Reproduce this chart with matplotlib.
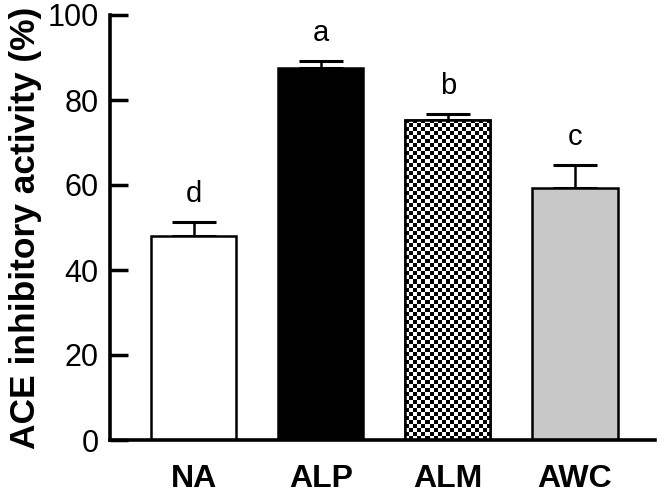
import numpy as np
import matplotlib
matplotlib.use("Agg")
import matplotlib.pyplot as plt

plt.rcParams['font.family'] = ['Liberation Sans', 'DejaVu Sans']

groups = ['NA', 'ALP', 'ALM', 'AWC']
means = [48.0, 87.5, 75.4, 59.4]
errs = [3.2, 1.7, 1.3, 5.4]
letters = ['d', 'a', 'b', 'c']

fig = plt.figure(figsize=(6.61, 5.0), dpi=100)
ax = fig.add_axes([0.166, 0.12, 0.825, 0.85])

x = np.arange(len(groups))
w = 0.67
colors = ['white', 'black', 'white', '#c8c8c8']
bars = ax.bar(x, means, width=w, color=colors, edgecolor='black',
              linewidth=1.8, zorder=2)

# checkerboard fill for ALM bar
alm = bars[2]
nx, ny = 21, 80
checker = (np.indices((ny, nx)).sum(axis=0) % 2).astype(float)
im = ax.imshow(checker, cmap='gray', interpolation='nearest', aspect='auto',
               extent=[alm.get_x(), alm.get_x() + alm.get_width(), 0, alm.get_height()],
               zorder=2.5)
im.set_clip_path(alm)
ax.bar(x[2], means[2], width=w, color='none', edgecolor='black',
       linewidth=1.8, zorder=3)

ax.errorbar(x, means, yerr=[np.zeros(len(errs)), errs], fmt='none',
            ecolor='black', elinewidth=1.8, capsize=15.5, capthick=2.2, zorder=1)

for xi, m, e, l in zip(x, means, errs, letters):
    ax.text(xi, m + e + 4.7, l, ha='center', va='baseline', fontsize=21)

ax.set_xlim(-0.66, 3.63)
ax.set_ylim(0, 100)
ax.set_yticks([0, 20, 40, 60, 80, 100])
ax.set_xticks(x)
ax.set_xticklabels(groups, fontweight='bold', fontsize=23)
ax.tick_params(axis='x', length=0, pad=17)
ax.tick_params(axis='y', direction='in', length=13, width=2.5, labelsize=22, pad=8)
ax.set_ylabel('ACE inhibitory activity (%)', fontweight='bold', fontsize=25.5, labelpad=4)

for s in ['top', 'right']:
    ax.spines[s].set_visible(False)
for s in ['left', 'bottom']:
    ax.spines[s].set_linewidth(2.6)

fig.savefig('out.png', dpi=100)
